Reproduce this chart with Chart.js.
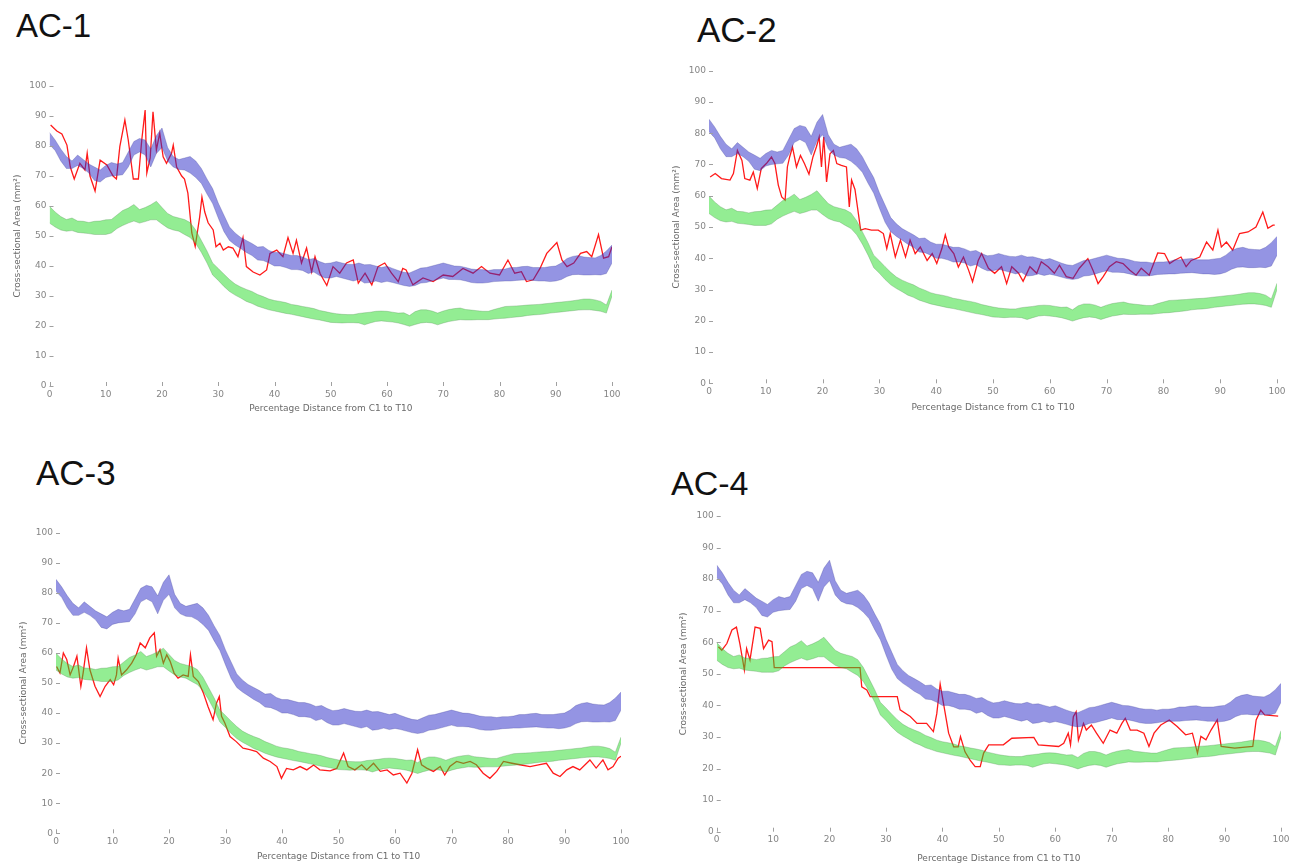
<!DOCTYPE html>
<html>
<head>
<meta charset="utf-8">
<script src="https://cdn.jsdelivr.net/npm/chart.js@4.4.1/dist/chart.umd.min.js"></script>
<style>
  html, body { margin: 0; padding: 0; background: #fff; }
  body { width: 1303px; height: 867px; position: relative; overflow: hidden; }
  .panel { position: absolute; }
  .tag { position: absolute; font-family: "Liberation Sans", Arial, sans-serif; color: #111; line-height: normal; white-space: nowrap; }
</style>
</head>
<body>
<div class="tag" style="left:16px;top:7px;font-size:33px">AC-1</div>
<div class="tag" style="left:697px;top:10px;font-size:35px">AC-2</div>
<div class="tag" style="left:36px;top:453px;font-size:35px">AC-3</div>
<div class="tag" style="left:671px;top:464px;font-size:34px">AC-4</div>

<div class="panel" id="p1"><canvas id="c1"></canvas></div>
<div class="panel" id="p2"><canvas id="c2"></canvas></div>
<div class="panel" id="p3"><canvas id="c3"></canvas></div>
<div class="panel" id="p4"><canvas id="c4"></canvas></div>

<script>
/****************************** Data ********************************/

// percentage distance C1 -> T10, one step per percent for the reference bands
const xs = Array.from({ length: 101 }, (_, i) => i);
const xTicks = [0, 10, 20, 30, 40, 50, 60, 70, 80, 90, 100];
const yTicks = [0, 10, 20, 30, 40, 50, 60, 70, 80, 90, 100];

// blue reference band
const blueHi = [84.5, 82, 79, 76.5, 75, 77, 75.5, 74, 73, 72,
    73.5, 74.5, 74, 74.5, 78, 81.5, 82.5, 82, 79, 83.5,
    86, 79.5, 76.5, 75.5, 76, 76.5, 75, 72.5, 69, 65.8,
    61, 57, 53, 51, 49.5, 48.5, 47.5, 46.3, 46.5, 45.2,
    44.5, 44.5, 44, 43.5, 43.5, 43, 42.2, 42.5, 41.5, 40.8,
    41, 41.5, 41, 40.6, 40.5, 41, 40.4, 40.5, 40, 39.5,
    39.9, 39.2, 38.5, 37.9, 37.7, 38.5, 39.3, 39.5, 40, 40.5,
    41, 40.5, 40, 39.9, 39.5, 39, 38.8, 38.8, 38.5, 38.8,
    38.8, 39, 39.5, 39.5, 39.8, 39.9, 39.5, 39.5, 39.5, 39.8,
    40, 41, 42.5, 43.2, 43.5, 43, 42.8, 42.7, 43.5, 45, 47];
const blueLo = [80.5, 78.5, 75, 72.5, 72.5, 73.5, 72.5, 71, 68.5, 68,
    69.5, 70, 70.2, 70.4, 73, 77, 78, 77, 73, 77.5,
    79.5, 75, 73, 72.2, 72, 71, 69.5, 67.5, 64, 60.8,
    56, 51.5, 48.5, 47, 45.8, 44.5, 43.5, 42, 41.8, 41,
    40, 40, 39.5, 38.8, 38.8, 38.5, 37.5, 38, 36.8, 36,
    36, 36.5, 36, 35.5, 35, 35.5, 34.3, 34.5, 35, 34.5,
    34.9, 34.5, 34, 33.5, 33.2, 33.5, 34.3, 34.5, 35, 35.5,
    36, 35.5, 35.5, 35.4, 35, 34.5, 34.3, 34.3, 34.5, 34.8,
    34.9, 35, 35, 35.2, 35.3, 35.4, 35.2, 35, 35, 34.8,
    35, 35.5, 36.5, 37.1, 37.2, 37, 37, 37.1, 37, 37.5, 41];

// green reference band
const greenHi = [59.9, 58, 56.5, 55.5, 56, 55, 54.9, 54.5, 54.9, 55,
    55.4, 55.5, 57, 58.5, 59.3, 60.5, 58.8, 59.5, 60.4, 61.6,
    59.5, 57.5, 56.5, 56, 55.5, 54.5, 52, 48.5, 45, 41,
    39.2, 37.3, 35.5, 34, 33, 32.2, 31.5, 30.5, 29.8, 29,
    28.5, 28.2, 27.8, 27.2, 26.9, 26.5, 26.2, 25.8, 25.2, 24.8,
    24.4, 24.1, 23.9, 23.8, 23.8, 24.2, 24.4, 24.6, 24.9, 25,
    24.9, 24.6, 24.3, 24.4, 23.5, 24.8, 25.4, 25.4, 25, 24.3,
    25, 25.5, 25.8, 26, 25.5, 25.3, 25.1, 24.9, 24.9, 25.5,
    26, 26.5, 26.6, 26.7, 26.8, 27, 27.1, 27.2, 27.4, 27.6,
    27.8, 28, 28.2, 28.4, 28.7, 29, 29, 28.7, 28.2, 27, 32];
const greenLo = [54.3, 53, 52, 51.6, 51.8, 51.2, 51, 50.8, 50.5, 50.5,
    50.5, 51, 52.5, 53.5, 54.3, 55, 54.3, 54.8, 55.4, 55.4,
    54, 52.7, 52, 51.6, 50.5, 49.5, 47.5, 44.5, 41, 37,
    35.2, 33.2, 31.5, 30.3, 29.3, 28.2, 27.5, 26.6, 26, 25.4,
    25, 24.6, 24.2, 23.9, 23.5, 23.1, 22.7, 22.3, 22, 21.6,
    21.2, 21.1, 21, 21.1, 21.1, 21, 20.4, 21, 21.5, 21.7,
    21.5, 21.3, 21, 20.5, 19.9, 20.5, 21, 21.2, 21, 20.4,
    21, 21.5, 21.8, 22.1, 22, 22, 22.1, 22.1, 22.1, 22.3,
    22.5, 22.6, 22.8, 23, 23.2, 23.5, 23.7, 23.8, 24, 24.3,
    24.5, 24.7, 24.9, 25.1, 25.3, 25.4, 25.4, 25.2, 24.9, 24.3, 30];

// measured subjects (red)
const ac1X = [0.2, 1.3, 2.2, 3.1, 3.7, 4.4, 5.4, 6.3, 6.7, 7.2, 8.1, 9, 10.2, 11.3, 11.9, 12.5, 13.4, 14, 14.9, 15.8,
    16.4, 17, 17.3, 17.9, 18.4, 19, 19.6, 20.2, 20.8, 21.7, 22, 22.6, 23.5, 24, 24.6, 25.3, 25.9, 26.7, 27.1, 27.6,
    28.2, 29.1, 29.6, 30.3, 30.9, 31.8, 32.6, 33.5, 34.4, 35, 36.2, 37.4, 38.6, 39.2, 40.4, 41.5, 42.4, 43.3, 43.9, 44.8,
    45.7, 46.6, 47.2, 48.1, 49.3, 50.4, 51.6, 52.8, 54, 54.9, 56.1, 57.3, 58.4, 59.6, 60.8, 62, 62.8, 63.4, 64.6, 66.4,
    68.2, 70, 71.7, 73.5, 75.3, 76.8, 78.3, 80, 81.5, 82.7, 83.9, 84.8, 86, 87.2, 88.4, 90.2, 91.1, 92, 93.2, 94.4,
    95.5, 96.4, 97.6, 98.5, 99.4, 100];
const ac1Y = [87, 85, 84, 80.3, 73, 69, 74.2, 72, 77.6, 70, 65, 75.3, 73.7, 70, 69, 79.8, 88.7, 82, 69, 69,
    82, 92, 71, 76, 91.4, 78.7, 84.3, 76.4, 74.2, 77.6, 80.3, 73, 70, 69, 64.3, 51, 46.5, 56.4, 63, 58,
    54.4, 52, 46.4, 47.6, 45.3, 46.4, 46, 43.1, 49.5, 39.8, 38, 37, 38.7, 44.2, 45.3, 43.1, 49.5, 44.2, 48.6, 41,
    46, 38, 43.1, 37.5, 33.5, 39.8, 37.6, 41, 42, 34.3, 37.6, 33.7, 39.8, 41, 37.6, 34.8, 39.2, 38.7, 33.7, 36,
    34.8, 37, 36.5, 39.2, 37.6, 39.8, 37.6, 37, 42, 37.6, 38.1, 34.8, 35.4, 39.2, 44.2, 47.8, 42, 39.8, 41, 44.2,
    44.8, 43.1, 50.5, 42.6, 43.1, 46.4];

const ac2X = [0.2, 1.1, 2.2, 3.7, 4.3, 5, 5.8, 6.3, 7.2, 7.8, 8.5, 9.2, 10.1, 11, 11.6, 12.2, 12.8, 13.4, 13.8, 14.2,
    14.7, 15.4, 16.1, 16.8, 17.6, 18.3, 18.9, 19.4, 19.8, 20.2, 20.7, 21.3, 21.9, 22.5, 23.3, 24.2, 24.7, 25.1, 25.7, 26.3,
    26.7, 27.5, 28.6, 29.8, 30.7, 31.3, 31.9, 32.8, 33.7, 34.6, 35.4, 36.3, 37.2, 38.4, 39.3, 40.1, 41, 41.6, 42.2, 43.1,
    43.9, 44.8, 45.7, 46.4, 47.4, 48, 49.2, 50.3, 51.5, 52.4, 53.3, 54.5, 55.3, 56.5, 57.7, 58.5, 59.7, 60.8, 61.7, 62.9,
    64.1, 65.2, 66.7, 67.6, 68.5, 69.4, 70.5, 71.7, 72.9, 74.1, 75.2, 76.1, 77.5, 79, 80.2, 81.1, 81.9, 83.1, 84, 84.9,
    86.4, 87.6, 88.7, 89.6, 90.2, 91.1, 92.2, 93.4, 94.9, 96.3, 97.5, 98.4, 99.3, 99.6];
const ac2Y = [66, 67.1, 65.5, 65, 67.1, 74.5, 71.3, 65.5, 65, 67.6, 62.3, 68.7, 70.3, 72.4, 70.3, 63.4, 59.6, 58.6, 69.2, 72.4,
    75.6, 69.2, 72.9, 70.3, 66.9, 72.4, 75.6, 78.8, 69.2, 78.8, 64.4, 73.4, 74.5, 70.3, 69.7, 69.2, 56.4, 65, 62, 54.3,
    49, 49.5, 49, 49, 47.9, 43.1, 47.9, 40.4, 45.8, 40.4, 45.8, 41.5, 43.6, 39.3, 41.5, 38.3, 43.1, 47.5, 43.6, 41.5,
    37.2, 40.4, 36.2, 32.5, 39.3, 41.5, 36.8, 35.2, 37.3, 31.9, 37.3, 35.2, 32.6, 37.3, 35.2, 38.9, 37.3, 35.2, 37.8, 34.1,
    33.6, 36.8, 39.9, 36.2, 31.9, 34.1, 37.3, 38.9, 38.3, 36.2, 34.6, 36.8, 34.6, 41.7, 41.5, 38.3, 39.3, 40.4, 37.3, 39.3,
    40.4, 45.2, 42.6, 49, 43.6, 45.2, 42.6, 47.9, 48.4, 50, 54.8, 49.6, 50.6, 50.6];

const ac3X = [0.1, 0.7, 1.3, 1.9, 2.5, 3.1, 3.7, 4.4, 4.8, 5.4, 6, 6.9, 7.8, 8.7, 9.6, 10.2, 10.7, 11, 11.6, 12.5,
    13.4, 14.2, 14.9, 15.8, 16.6, 17.4, 17.8, 18.4, 19, 19.6, 20.2, 20.9, 21.6, 22.5, 23.4, 23.8, 24.3, 25.2, 26.1, 26.9,
    27.8, 28.4, 28.9, 29.3, 29.9, 30.8, 31.9, 33.1, 34.3, 35.5, 36.7, 37.9, 39.1, 39.9, 40.8, 42, 43.2, 44.4, 45.6, 46.7,
    48.5, 49.7, 50.9, 51.7, 52.9, 54.1, 55, 56.2, 57.4, 58.6, 59.7, 60.9, 62.1, 63, 64, 64.7, 65.6, 66.8, 68, 68.8,
    69.7, 70.9, 72.1, 73.3, 74.4, 75.6, 76.8, 78, 79.2, 80.7, 82.1, 83.9, 85.4, 86.8, 88, 89.2, 90.4, 91.5, 92.7, 94.5,
    95.6, 96.8, 97.7, 98.6, 99.5, 100];
const ac3Y = [55.5, 53.3, 60, 57.8, 52.7, 55.5, 58.9, 48.9, 53.3, 61.7, 54.4, 48.9, 45.5, 48.9, 51.1, 49.4, 52.7, 58.3, 52.7, 54.4,
    56.6, 59.4, 63.3, 61.7, 65, 66.7, 58.9, 61.1, 56.6, 59.4, 57.2, 53.3, 51.6, 52.7, 52.2, 59.4, 52.2, 50.5, 46.6, 42.2,
    37.8, 43.3, 45.5, 38.9, 36.6, 32.2, 30.5, 28.3, 27.8, 27.2, 25, 23.9, 22.2, 18.3, 21.6, 21.1, 22.2, 21.1, 22.7, 21.1,
    20.8, 21.6, 26.7, 22.2, 21.1, 22.8, 21.1, 23.3, 20.6, 21.1, 19.4, 20, 16.7, 20, 27.8, 22.8, 21.7, 20.6, 22.2, 19.4,
    22.2, 23.9, 23.3, 23.9, 22.8, 20, 18.3, 20.6, 23.9, 23.3, 22.8, 22.2, 22.8, 23.3, 20, 18.9, 21.1, 22.2, 21.1, 24.4,
    21.7, 24.4, 21.1, 22.2, 25, 25.6];

const ac4X = [0.3, 0.9, 1.8, 2.7, 3.5, 4.1, 4.6, 4.9, 5.3, 5.9, 6.8, 7.7, 8.3, 9.2, 9.8, 10.2, 25.4, 25.7, 26.6, 27.2,
    32, 32.5, 34.3, 35.5, 37.2, 38.4, 39, 39.6, 40.2, 41.1, 42, 42.8, 43.2, 44, 44.9, 45.8, 46.7, 47.3, 48.2, 50.8,
    52.3, 56.2, 57, 60.6, 61.5, 62.3, 62.7, 63.2, 63.7, 64.1, 64.5, 65, 65.5, 66.4, 67.3, 68.5, 69.7, 70.9, 71.8, 72.4,
    73.3, 74.5, 75.7, 76.6, 77.5, 78.7, 80.2, 81.6, 83.1, 84.3, 85.2, 85.8, 86.7, 87.6, 88.7, 89.4, 91.8, 95, 95.6, 96.4,
    97.1, 99.5];
const ac4Y = [58.6, 57.5, 59.6, 63.9, 64.8, 59.6, 54.4, 51.2, 58, 54.4, 64.8, 64.4, 58, 60.7, 60.2, 52, 52, 45.9, 44.9, 42.8,
    42.8, 38.6, 36.5, 34.3, 34.3, 31.7, 37.4, 46.8, 40.6, 31.2, 26.9, 26.9, 30.1, 25.3, 22.7, 20.6, 20.6, 24.9, 27.5, 27.5,
    29.6, 29.9, 27.5, 27, 28, 31.2, 27.5, 36.4, 38, 29, 31.2, 34.3, 32.2, 33.8, 31.2, 28, 32.2, 31.2, 34.3, 35.9,
    32.2, 32.2, 31.2, 27, 31.2, 33.8, 35.4, 33.3, 30.7, 31.2, 24.9, 30.2, 29.1, 32.2, 35.4, 27, 26.5, 27, 35.4, 38.5,
    37, 36.6];

/****************************** Layout ********************************/

// plot box of each panel in page pixels, plus centre lines of the axis titles
const panels = [
    { wrap: "p1", canvas: "c1", L: 49.5, R: 612, T: 86, B: 386, yTitle: 17, xTitle: 409, redX: ac1X, redY: ac1Y },
    { wrap: "p2", canvas: "c2", L: 709, R: 1277, T: 70.7, B: 383.3, yTitle: 676.7, xTitle: 408, redX: ac2X, redY: ac2Y },
    { wrap: "p3", canvas: "c3", L: 56, R: 621, T: 532.7, B: 833.3, yTitle: 23.3, xTitle: 856.7, redX: ac3X, redY: ac3Y },
    { wrap: "p4", canvas: "c4", L: 716.7, R: 1281, T: 516, B: 831.7, yTitle: 683.3, xTitle: 858.3, redX: ac4X, redY: ac4Y },
];

const Y_TITLE_SIZE = 9, X_TITLE_SIZE = 9;
const Y_TITLE_LH = Y_TITLE_SIZE * 1.2, X_TITLE_LH = X_TITLE_SIZE * 1.2;

Chart.defaults.font.family = "'DejaVu Sans', 'Liberation Sans', sans-serif";

// matlab style ticks pointing into the plot
const innerTicks = {
    id: "innerTicks",
    afterDraw(chart) {
        const { ctx, chartArea: a, scales: { x, y } } = chart;
        ctx.save();
        ctx.strokeStyle = "#a0a0a0";
        ctx.lineWidth = 1;
        ctx.beginPath();
        y.ticks.forEach(t => {
            const py = Math.round(y.getPixelForValue(t.value)) + 0.5;
            ctx.moveTo(a.left, py);
            ctx.lineTo(a.left + 4, py);
        });
        x.ticks.forEach(t => {
            const px = Math.round(x.getPixelForValue(t.value)) + 0.5;
            ctx.moveTo(px, a.bottom);
            ctx.lineTo(px, a.bottom - 4);
        });
        ctx.stroke();
        ctx.restore();
    }
};

const pts = (xv, yv) => xv.map((x, i) => ({ x: x, y: yv[i] }));

function band(lo, hi, fillColor, edgeColor) {
    return [
        { data: pts(xs, lo), borderColor: edgeColor, borderWidth: 1, pointRadius: 0, fill: false },
        { data: pts(xs, hi), borderColor: edgeColor, borderWidth: 1, pointRadius: 0, fill: "-1", backgroundColor: fillColor },
    ];
}

panels.forEach(p => {
    const left = Math.round(p.yTitle - Y_TITLE_LH / 2);
    const top = Math.round(p.T - 10);
    const right = Math.round(p.R + 14);
    const bottom = Math.round(p.xTitle + X_TITLE_LH / 2);

    const wrap = document.getElementById(p.wrap);
    wrap.style.left = left + "px";
    wrap.style.top = top + "px";
    wrap.style.width = (right - left) + "px";
    wrap.style.height = (bottom - top) + "px";

    new Chart(p.canvas, {
        type: "line",
        data: {
            datasets: [
                // index order = draw order top to bottom: bands sit over the red line
                ...band(blueLo, blueHi, "rgba(42, 42, 200, 0.5)", "rgba(60, 60, 150, 0.28)"),
                ...band(greenLo, greenHi, "rgba(40, 220, 40, 0.5)", "rgba(80, 140, 80, 0.3)"),
                { data: pts(p.redX, p.redY), borderColor: "#ff1a1a", borderWidth: 1.3, pointRadius: 0, fill: false },
            ]
        },
        options: {
            responsive: true,
            maintainAspectRatio: false,
            animation: false,
            events: [],
            layout: { padding: { top: p.T - top, right: right - p.R, bottom: 0, left: 0 } },
            elements: { line: { tension: 0 } },
            plugins: { legend: { display: false }, tooltip: { enabled: false } },
            scales: {
                x: {
                    type: "linear", min: 0, max: 100,
                    afterBuildTicks: s => { s.ticks = xTicks.map(v => ({ value: v })); },
                    afterFit: s => { s.height = bottom - p.B; },
                    grid: { display: false, drawTicks: false },
                    border: { display: false },
                    ticks: { padding: 3, color: "#858585", font: { size: 9 }, maxRotation: 0, autoSkip: false },
                    title: { display: true, text: "Percentage Distance from C1 to T10", color: "#6a6a6a", padding: 0, font: { size: X_TITLE_SIZE, lineHeight: 1.2 } }
                },
                y: {
                    type: "linear", min: 0, max: 100,
                    afterBuildTicks: s => { s.ticks = yTicks.map(v => ({ value: v })); },
                    afterFit: s => { s.width = p.L - left; },
                    grid: { display: false, drawTicks: false },
                    border: { display: false },
                    ticks: { padding: 3, color: "#858585", font: { size: 9 } },
                    title: { display: true, text: "Cross-sectional Area (mm²)", color: "#6a6a6a", padding: 0, font: { size: Y_TITLE_SIZE, lineHeight: 1.2 } }
                }
            }
        },
        plugins: [innerTicks]
    });
});
</script>
</body>
</html>
